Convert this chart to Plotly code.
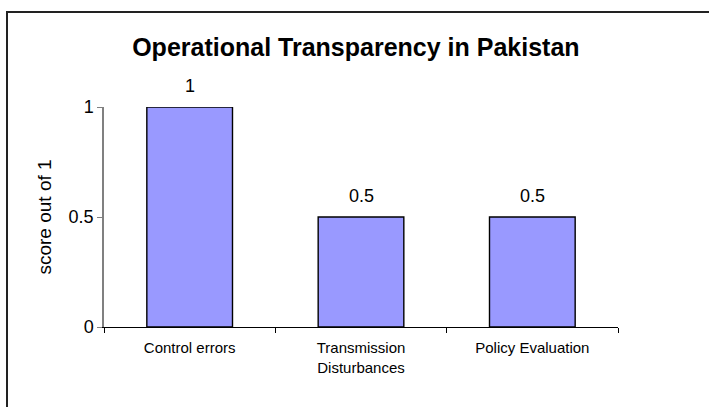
import plotly.graph_objects as go

categories = ["Control errors", "Transmission<br>Disturbances", "Policy Evaluation"]
scores = [1, 0.5, 0.5]
score_labels = ["1", "0.5", "0.5"]
y_ticks = [0, 0.5, 1]
y_tick_text = ["0", "0.5", "1"]

W, H = 709, 407
L, R, T, B = 104, 91, 107, 80
pw, ph = W - L - R, H - T - B


def px_x(x):
    return (x - L) / pw


def px_y(y):
    return (H - B - y) / ph


fig = go.Figure()
fig.add_trace(go.Bar(
    x=categories, y=scores,
    marker=dict(color="#9999FF", line=dict(color="#000000", width=1.4)),
    width=0.5,
))

# value labels above the bars
for cat, val, lab in zip(categories, scores, score_labels):
    fig.add_annotation(x=cat, y=val, text=lab, showarrow=False,
                       yanchor="bottom", yshift=9,
                       font=dict(family="Liberation Sans, Arial", size=18, color="#000000"))

# chart frame: only the left and top edges fall inside the picture
fig.add_shape(type="rect", xref="paper", yref="paper",
              x0=px_x(7), x1=px_x(780), y0=px_y(480), y1=px_y(12),
              line=dict(color="#222222", width=2), fillcolor="rgba(0,0,0,0)",
              layer="below")

fig.update_layout(
    width=W, height=H,
    margin=dict(l=L, r=R, t=T, b=B),
    paper_bgcolor="#FFFFFF", plot_bgcolor="#FFFFFF",
    font=dict(family="Liberation Sans, Arial", color="#000000"),
    showlegend=False,
    title=dict(text="<b>Operational Transparency in Pakistan</b>",
               x=px_x(362), xanchor="center", y=1 - 47 / H, yanchor="middle",
               font=dict(size=25, color="#000000")),
    xaxis=dict(showline=True, linecolor="#000000", linewidth=1.4,
               ticks="outside", ticklen=5, tickcolor="#000000",
               tickson="boundaries", showgrid=False, ticklabelstandoff=7,
               tickfont=dict(size=15, color="#000000")),
    yaxis=dict(range=[0, 1], showline=True, linecolor="#808080", linewidth=1.5,
               ticks="outside", ticklen=5, tickcolor="#808080",
               tickvals=y_ticks, ticktext=y_tick_text, showgrid=False,
               zeroline=False, tickfont=dict(size=18, color="#000000"),
               title=dict(text="score out of 1", font=dict(size=19), standoff=12)),
)

fig.write_html("out.html", config={"displayModeBar": False},
               post_script="document.body.style.margin='0';"
                           "document.body.style.overflow='hidden';"
                           "document.documentElement.style.overflow='hidden';")
